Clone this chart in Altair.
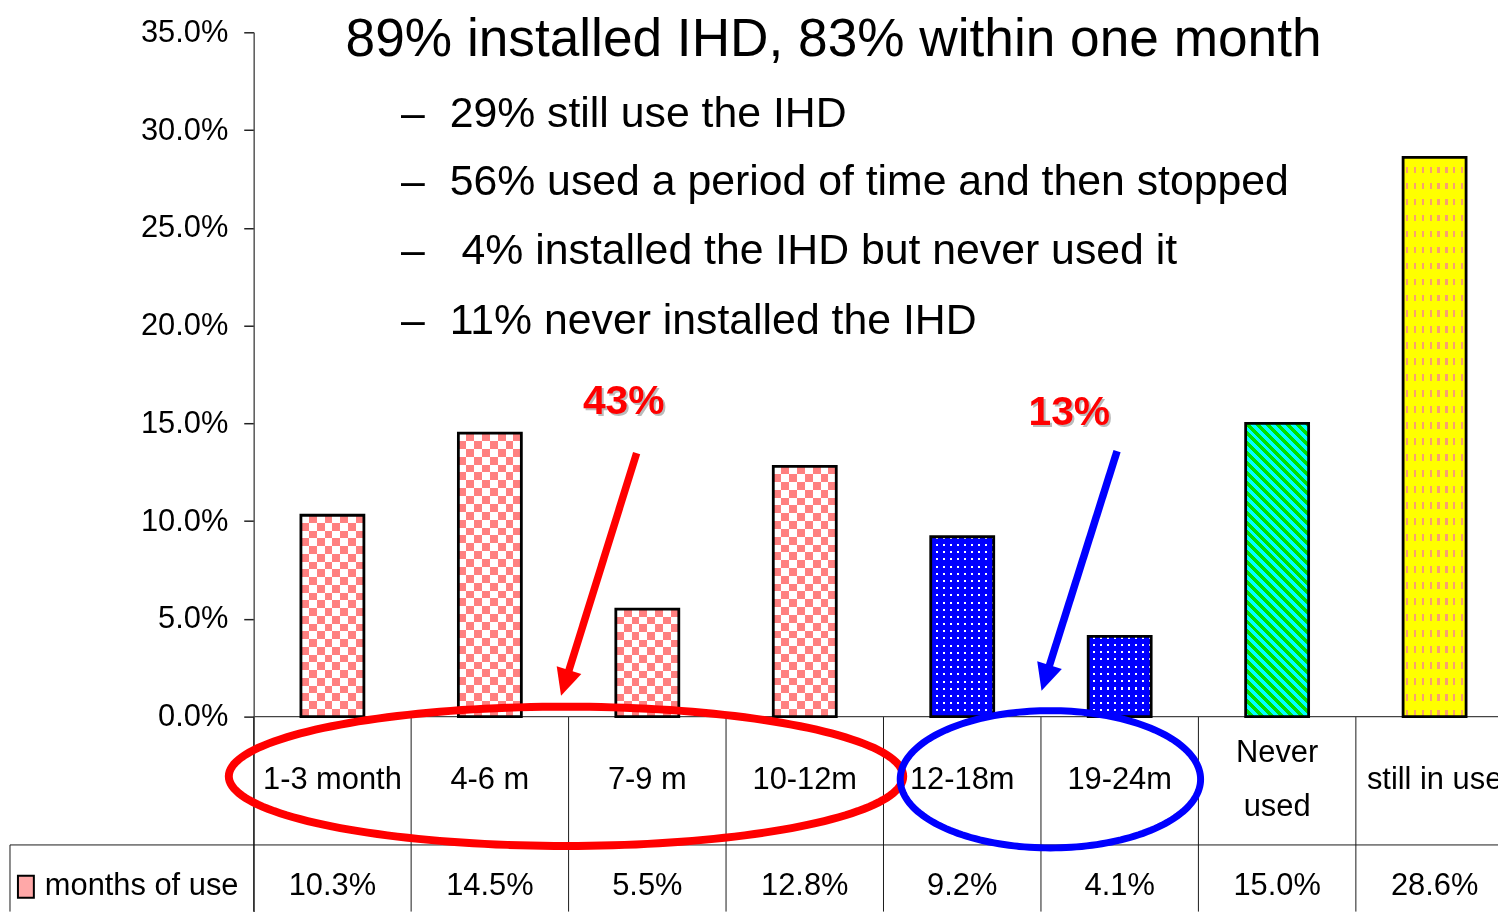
import math
import altair as alt
import pandas as pd

# ---------------- data ----------------
categories = ["1-3 month", "4-6 m", "7-9 m", "10-12m", "12-18m", "19-24m", "Never used", "still in use"]
category_labels = ["1-3 month", "4-6 m", "7-9 m", "10-12m", "12-18m", "19-24m", "Never\nused", "still in use"]
share_pct = [10.3, 14.5, 5.5, 12.8, 9.2, 4.1, 15.0, 28.6]
fill_pattern = ["check", "check", "check", "check", "dots", "dots", "diag", "dash"]
series_name = "months of use"
y_ticks = [0, 5, 10, 15, 20, 25, 30, 35]
headline = "89% installed IHD, 83% within one month"
bullet_lines = [
    "29% still use the IHD",
    "56% used a period of time and then stopped",
    " 4% installed the IHD but never used it",
    "11% never installed the IHD",
]
callout_texts = ["43%", "13%"]
callout_colors = ["#FF0000", "#0000FF"]

# ---------------- layout ----------------
PLOT_W, PLOT_H = 1251, 884
PAD_L, PAD_T = 247, 22
BAND = 158.3                 # px per category
PX = 688 / 35                # px per percentage point
X_MAX = PLOT_W / BAND
Y_MIN = 35 - PLOT_H / PX
BAR_FRAC = 0.4

SANS = "Liberation Sans, Arial, Helvetica, sans-serif"
TABLE_FS = 31


def ux(px):
    return (px - 255) / BAND


def uy(py):
    return (718 - py) / PX


xs = alt.Scale(domain=[0, X_MAX], nice=False, zero=False)
ys = alt.Scale(domain=[Y_MIN, 35], nice=False, zero=False)

Y_AXIS = alt.Axis(
    values=y_ticks, labelExpr="format(datum.value, '.1f') + '%'", title=None, grid=False,
    domain=True, domainColor="#555555", domainWidth=1.5, ticks=True, tickSize=10,
    tickColor="#222222", tickWidth=1.5, labelFont=SANS, labelFontSize=TABLE_FS,
    labelColor="#000000", labelPadding=16,
)


def X(f):
    return alt.X(f, type="quantitative", scale=xs, axis=None)


def Y(f):
    return alt.Y(f, type="quantitative", scale=ys, axis=Y_AXIS)


def stripes(segments, n, x1, y1, x2, y2):
    stops = []
    pos = 0.0
    for k in range(n):
        for color, f in segments:
            end = min(1.0, pos + f / n)
            stops.append(alt.GradientStop(offset=round(pos, 5), color=color))
            stops.append(alt.GradientStop(offset=round(end, 5), color=color))
            pos = end
    return alt.LinearGradient(gradient="linear", stops=stops, x1=x1, y1=y1, x2=x2, y2=y2)


df = pd.DataFrame({
    "category": categories, "label": category_labels, "value": share_pct,
    "pattern": fill_pattern, "idx": list(range(len(categories))),
})

LINE_H = 54
half = BAR_FRAC / 2
base = alt.Chart(df).transform_calculate(
    x0=f"datum.idx + {0.5 - half}", x1=f"datum.idx + {0.5 + half}", xc="datum.idx + 0.5",
    zero="0", ybot=str(Y_MIN),
    label_y=f"{uy(782)} + (length(split(datum.label, '\\n')) - 1) * {LINE_H / 2 / PX}",
    value_y=str(uy(888)),
    vlabel="format(datum.value, '.1f') + '%'",
)
rect_base = base.encode(x=X("x0"), x2="x1:Q", y=Y("value"), y2="zero:Q")

layers = []

# table grid
layers.append(base.mark_rule(color="#1a1a1a", strokeWidth=1).encode(x=X("idx"), y=Y("zero"), y2="ybot:Q"))
grid = pd.DataFrame({
    "x1": [ux(10), ux(10)], "x2": [X_MAX, ux(10)],
    "y1": [uy(847), uy(847)], "y2": [uy(847), Y_MIN],
})
layers.append(alt.Chart(grid).mark_rule(color="#1a1a1a", strokeWidth=1).encode(
    x=X("x1"), x2="x2:Q", y=Y("y1"), y2="y2:Q"))
baseline = pd.DataFrame({"x1": [0], "x2": [X_MAX], "y1": [0]})
layers.append(alt.Chart(baseline).mark_rule(color="#444444", strokeWidth=1.5).encode(
    x=X("x1"), x2="x2:Q", y=Y("y1")))

BAR_W = BAR_FRAC * BAND

# pink checkerboard: vertical b/w stripes XOR horizontal b/w stripes, then screened pink
CELL = 7.9
layers.append(rect_base.transform_filter("datum.pattern == 'check'").mark_rect(
    fill=stripes([("#000000", 0.5), ("#FFFFFF", 0.5)], max(1, round(BAR_W / (2 * CELL))), 0, 0, 1, 0)))
for i, (v, p) in enumerate(zip(share_pct, fill_pattern)):
    if p == "check":
        n = max(1, round(v * PX / (2 * CELL)))
        layers.append(rect_base.transform_filter(f"datum.idx == {i}").mark_rect(
            fill=stripes([("#000000", 0.5), ("#FFFFFF", 0.5)], n, 0, 1, 0, 0), blend="difference"))
layers.append(rect_base.transform_filter("datum.pattern == 'check'").mark_rect(fill="#FF8080", blend="screen"))

# blue with white dots
DOT = 7.3
layers.append(rect_base.transform_filter("datum.pattern == 'dots'").mark_rect(
    fill=stripes([("#0000FF", 0.72), ("#FFFFFF", 0.28)], round(BAR_W / DOT), 0, 0, 1, 0)))
for i, (v, p) in enumerate(zip(share_pct, fill_pattern)):
    if p == "dots":
        n = max(1, round(v * PX / DOT))
        layers.append(rect_base.transform_filter(f"datum.idx == {i}").mark_rect(
            fill=stripes([("#0000FF", 0.72), ("rgba(0,0,255,0)", 0.28)], n, 0, 1, 0, 0)))

# cyan / green diagonal stripes
for i, (v, p) in enumerate(zip(share_pct, fill_pattern)):
    if p == "diag":
        H = v * PX
        a = BAR_W / H
        s = (1 + a) / (1 + a * a)
        n = max(1, round((BAR_W + H) / math.sqrt(2) / 7.0))
        layers.append(rect_base.transform_filter(f"datum.idx == {i}").mark_rect(
            fill=stripes([("#00FFFF", 0.5), ("#00E000", 0.5)], n, 0, 1, a * s, 1 - s)))

# yellow with orange dashes
for i, (v, p) in enumerate(zip(share_pct, fill_pattern)):
    if p == "dash":
        H = v * PX
        layers.append(rect_base.transform_filter(f"datum.idx == {i}").mark_rect(
            fill=stripes([("#FFFF00", 0.36), ("#F8A070", 0.28), ("#FFFF00", 0.36)], 8, 0, 0, 1, 0)))
        layers.append(rect_base.transform_filter(f"datum.idx == {i}").mark_rect(
            fill=stripes([("#FFFF00", 0.58), ("rgba(255,255,0,0)", 0.42)], max(1, round(H / 16)), 0, 0, 0, 1)))

# bar outlines (carry the y axis)
layers.append(rect_base.mark_rect(fillOpacity=0, stroke="#000000", strokeWidth=2.8))

# data table text
layers.append(base.mark_text(font=SANS, fontSize=TABLE_FS, lineBreak="\n", lineHeight=LINE_H, align="center",
                             baseline="middle", color="#000000").encode(
    x=X("xc"), y=Y("label_y"), text="label:N"))
layers.append(base.mark_text(font=SANS, fontSize=TABLE_FS, align="center", baseline="middle",
                             color="#000000").encode(x=X("xc"), y=Y("value_y"), text="vlabel:N"))
legend_df = pd.DataFrame({"text": [series_name], "x": [ux(45)], "y": [uy(888)],
                          "sx1": [ux(18)], "sx2": [ux(34)], "sy1": [uy(878)], "sy2": [uy(900)]})
layers.append(alt.Chart(legend_df).mark_text(font=SANS, fontSize=TABLE_FS, align="left", baseline="middle",
                                             color="#000000").encode(x=X("x"), y=Y("y"), text="text:N"))
layers.append(alt.Chart(legend_df).mark_rect(fill="#FFA8A8", stroke="#000000", strokeWidth=2).encode(
    x=X("sx1"), x2="sx2:Q", y=Y("sy1"), y2="sy2:Q"))

# headline and bullets
head_df = pd.DataFrame({"text": [headline], "x": [ux(838)], "y": [uy(38)]})
layers.append(alt.Chart(head_df).mark_text(font=SANS, fontSize=53.5, align="center", baseline="middle",
                                           color="#000000").encode(x=X("x"), y=Y("y"), text="text:N"))
bullet_x_px = [452 + (12 if t.startswith(" ") else 0) for t in bullet_lines]
bul_df = pd.DataFrame({
    "text": [t.strip() for t in bullet_lines], "dash": ["\u2013"] * len(bullet_lines),
    "x": [ux(p) for p in bullet_x_px], "xd": [ux(403)] * len(bullet_lines),
    "y": [uy(112), uy(181), uy(250), uy(320)],
})
layers.append(alt.Chart(bul_df).mark_text(font=SANS, fontSize=43, align="left", baseline="middle",
                                          color="#000000").encode(x=X("x"), y=Y("y"), text="text:N"))
layers.append(alt.Chart(bul_df).mark_text(font=SANS, fontSize=43, align="left", baseline="middle",
                                          color="#000000").encode(x=X("xd"), y=Y("y"), text="dash:N"))


# ellipses around the groups
def ellipse_path(ratio, n=180):
    pts = [(math.cos(2 * math.pi * k / n), ratio * math.sin(2 * math.pi * k / n)) for k in range(n)]
    return "M" + " L".join(f"{x:.4f},{y:.4f}" for x, y in pts) + " Z"


ell = [
    (569, 778, 339, 70, "#FF0000", 8),
    (1056, 781, 151, 69, "#0000FF", 7),
]
for cx, cy, rx, ry, col, sw in ell:
    edf = pd.DataFrame({"x": [ux(cx)], "y": [uy(cy)]})
    layers.append(alt.Chart(edf).mark_point(shape=ellipse_path(ry / rx), size=(2 * rx) ** 2, filled=False,
                                            stroke=col, strokeWidth=sw, opacity=1).encode(x=X("x"), y=Y("y")))

# arrows
tips = [(564, 697), (1047, 692)]
tops = [(640, 453), (1123, 451)]
HEAD = 27
arrow_rows = []
for (tx, ty), (sx, sy), col in zip(tips, tops, callout_colors):
    dx, dy = tx - sx, ty - sy
    L = math.hypot(dx, dy)
    ux_, uy_ = dx / L, dy / L
    arrow_rows.append({
        "x1": ux(sx), "y1": uy(sy),
        "x2": ux(tx - (HEAD - 5) * ux_), "y2": uy(ty - (HEAD - 5) * uy_),
        "hx": ux(tx - HEAD * ux_), "hy": uy(ty - HEAD * uy_),
        "color": col, "angle": math.degrees(math.atan2(-dx, dy)),
    })
arr_df = pd.DataFrame(arrow_rows)
layers.append(alt.Chart(arr_df).mark_rule(strokeWidth=7.5, strokeCap="butt").encode(
    x=X("x1"), x2="x2:Q", y=Y("y1"), y2="y2:Q", color=alt.Color("color:N", scale=None)))
layers.append(alt.Chart(arr_df).mark_point(shape="M 0 1 L -0.48 0 L 0.48 0 Z", size=(2 * HEAD) ** 2,
                                           filled=True, opacity=1, strokeWidth=0,
                                           angle=float(arrow_rows[0]["angle"])).encode(
    x=X("hx"), y=Y("hy"), color=alt.Color("color:N", scale=None)))

# callouts
call_df = pd.DataFrame({"text": callout_texts, "x": [ux(627), ux(1075)], "y": [uy(402), uy(413)]})
layers.append(alt.Chart(call_df).mark_text(font=SANS, fontSize=41, fontWeight="bold", align="center",
                                           baseline="middle", color="#BBBBBB", dx=2, dy=2).encode(
    x=X("x"), y=Y("y"), text="text:N"))
layers.append(alt.Chart(call_df).mark_text(font=SANS, fontSize=41, fontWeight="bold", align="center",
                                           baseline="middle", color="#FF0000").encode(
    x=X("x"), y=Y("y"), text="text:N"))

chart = alt.layer(*layers).properties(
    width=PLOT_W, height=PLOT_H,
    autosize=alt.AutoSizeParams(type="none"),
    padding={"left": PAD_L, "top": PAD_T, "right": 0, "bottom": 0},
).configure_view(strokeWidth=0)

chart.save("out.html", embed_options={"renderer": "svg", "actions": False})
